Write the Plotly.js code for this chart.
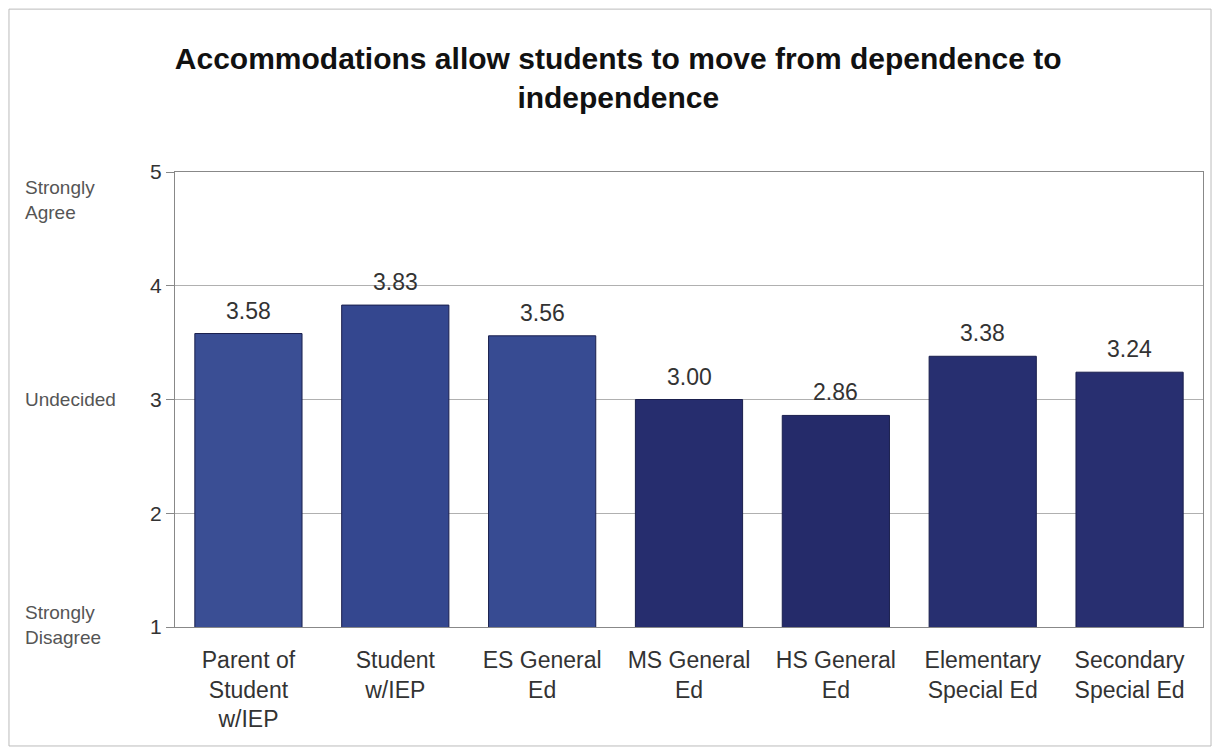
<!DOCTYPE html>
<html><head><meta charset="utf-8">
<script src="https://cdn.plot.ly/plotly-3.0.1.min.js"></script>
<style>html,body{margin:0;padding:0;background:#fff}</style>
</head><body><div id="chart" style="width:1217px;height:752px"></div>
<script>
var categories = ["Parent of<br>Student<br>w/IEP","Student<br>w/IEP","ES General<br>Ed","MS General<br>Ed","HS General<br>Ed","Elementary<br>Special Ed","Secondary<br>Special Ed"];
var values = [3.58, 3.83, 3.56, 3.00, 2.86, 3.38, 3.24];
var labels = ["3.58","3.83","3.56","3.00","2.86","3.38","3.24"];
var barColors = ["#3a4e94","#34478f","#374b92","#262d6e","#252b6a","#272f70","#282f70"];
var yTicks = [1,2,3,4,5];
var scaleLabels = [[5,"Strongly<br>Agree"],[3,"Undecided"],[1,"Strongly<br>Disagree"]];

var FONT = "Liberation Sans, Arial, sans-serif";
var trace = {
  type:"bar", x:categories, y:values, base:0,
  marker:{color:barColors, line:{color:"#1a1f4d", width:1}},
  hoverinfo:"none"
};
var ann = scaleLabels.map(function(s){
  return {xref:"paper", yref:"y", x:-0.148, y:s[0] + (s[0]===5?-0.25:(s[0]===1?0.02:0)), xanchor:"left", yanchor:"middle", align:"left",
    text:s[1], showarrow:false, font:{family:FONT, size:19, color:"#555"}};
});
values.forEach(function(v,i){
  ann.push({xref:"x", yref:"y", x:categories[i], y:v, yanchor:"bottom", xanchor:"center", yshift:8,
    text:labels[i], showarrow:false, font:{family:FONT, size:23, color:"#333"}});
});
var layout = {
  width:1217, height:752,
  margin:{l:175, r:14, t:172, b:125},
  paper_bgcolor:"#ffffff", plot_bgcolor:"#ffffff",
  title:{text:"<b>Accommodations allow students to move from dependence to<br>independence</b>", x:0.508, xanchor:"center", y:1-69/752, yanchor:"middle",
    font:{family:FONT, size:30, color:"#111"}},
  showlegend:false, bargap:0.27,
  xaxis:{showline:true, linecolor:"#888", linewidth:1, mirror:true, ticks:"", ticklabelstandoff:12,
    tickfont:{family:FONT, size:23, color:"#333"}, fixedrange:true},
  yaxis:{range:[1,5], tickvals:yTicks, ticks:"outside", ticklen:8, tickcolor:"#888",
    showline:true, linecolor:"#888", linewidth:1, mirror:true, showgrid:true, gridcolor:"#b0b0b0", gridwidth:1,
    tickfont:{family:FONT, size:21, color:"#333"}, zeroline:false},
  annotations:ann,
  shapes:[{type:"rect", xref:"paper", yref:"paper", x0:-0.1615, x1:1.0078, y0:-0.2615, y1:1.358, line:{color:"#bbb", width:1}, fillcolor:"rgba(0,0,0,0)", layer:"below"}]
};
Plotly.newPlot("chart",[trace],layout,{displayModeBar:false, staticPlot:true});
</script></body></html>
